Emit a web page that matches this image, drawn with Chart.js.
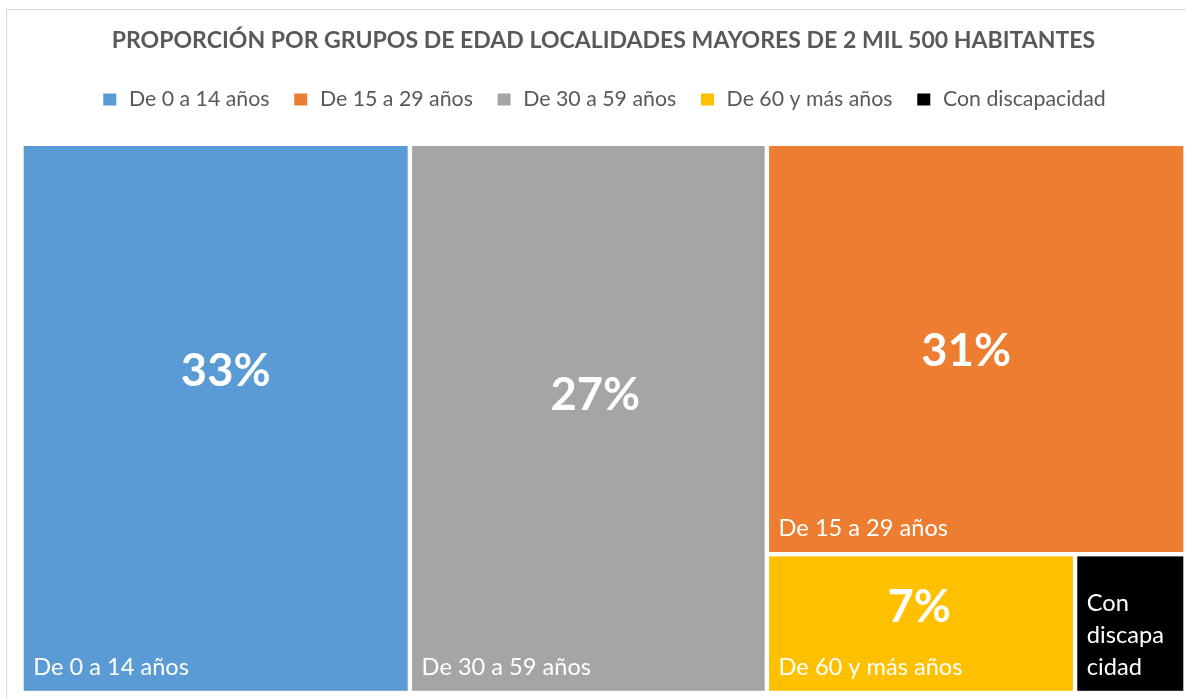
<!DOCTYPE html>
<html>
<head>
<meta charset="utf-8">
<script src="https://cdn.jsdelivr.net/npm/chart.js@4.4.1/dist/chart.umd.min.js"></script>
<style>
  html, body { margin: 0; padding: 0; background: #ffffff; overflow: hidden; width: 1186px; height: 699px; }
  #frame { position: absolute; left: 6px; top: 9px; width: 1220px; height: 720px; border: 1px solid #d9d9d9; box-sizing: border-box; }
  #wrap { position: absolute; left: 0; top: 0; width: 1186px; height: 699px; }
</style>
</head>
<body>
<div id="frame"></div>
<div id="wrap"><canvas id="c" width="1186" height="699"></canvas></div>
<script>
// ---------------- data ----------------
const chartTitle = 'PROPORCIÓN POR GRUPOS DE EDAD LOCALIDADES MAYORES DE 2 MIL 500 HABITANTES';
const categories = ['De 0 a 14 años', 'De 15 a 29 años', 'De 30 a 59 años', 'De 60 y más años', 'Con discapacidad'];
const areaValues = [33.4, 26.9, 30.7, 6.7, 2.4];          // cell sizes
const percentLabels = ['33%', '31%', '27%', '7%', ''];     // value labels as printed on the cells

// ---------------- style ----------------
const colors = ['#5B9BD5', '#ED7D31', '#A5A5A5', '#FFC000', '#000000'];
const valueCenterFrac = [0.4115, 0.503, 0.454, 0.368, 0.5]; // vertical position of value label inside its cell
const valueDx = [10, -10, 7, -1.7, 0];                      // horizontal nudge of value label
const FONT = 'Lato, Carlito, Calibri, sans-serif';
const TEXT_GRAY = '#595959';
const GAP = 4.4;

function fitSize(text, weight, target) {
  const c = document.createElement('canvas').getContext('2d');
  c.font = weight + ' 100px ' + FONT;
  return 100 * target / c.measureText(text).width;
}
const titleSize = fitSize(chartTitle, 'bold', 984);
const legendSize = fitSize(categories[0], 'normal', 140.7);
const nameSize = fitSize(categories[2], 'normal', 169.6);
const valueSize = fitSize(percentLabels[1], 'bold', 89.7);

const legendPad = 22.7;
const legendCenter = 99.5;
const legendTop = legendCenter - legendPad - legendSize / 2;
const titleCenter = 41;
const titlePadTop = titleCenter - titleSize * 0.6;
const titlePadBottom = legendTop - titlePadTop - titleSize * 1.2;
const legendBottom = legendTop + legendSize + legendPad + 10;
const areaTop = 143.8;
const spacer = Math.max(0, areaTop - legendBottom - 1.2);

// ---------------- squarified layout ----------------
function worst(row, side) {
  let s = 0, mx = -Infinity, mn = Infinity;
  row.forEach(r => { s += r.a; mx = Math.max(mx, r.a); mn = Math.min(mn, r.a); });
  return Math.max(side * side * mx / (s * s), (s * s) / (side * side * mn));
}
function squarify(items, x, y, w, h) {
  const out = [];
  let rest = items.slice();
  while (rest.length) {
    const side = Math.min(w, h);
    let row = [rest[0]], k = 1, best = worst(row, side);
    while (k < rest.length) {
      const cand = row.concat([rest[k]]);
      const wv = worst(cand, side);
      if (wv <= best) { row = cand; best = wv; k++; } else break;
    }
    const s = row.reduce((t, r) => t + r.a, 0);
    if (w >= h) {
      const cw = s / h; let cy = y;
      row.forEach(r => { const rh = r.a / cw; out.push({ i: r.i, x: x, y: cy, w: cw, h: rh }); cy += rh; });
      x += cw; w -= cw;
    } else {
      const rh = s / w; let cx = x;
      row.forEach(r => { const rw = r.a / rh; out.push({ i: r.i, x: cx, y: y, w: rw, h: rh }); cx += rw; });
      y += rh; h -= rh;
    }
    rest = rest.slice(k);
  }
  return out;
}

function wrapText(ctx, text, maxW) {
  const words = text.split(' ');
  const lines = [];
  let cur = '';
  const pushWord = (wd) => {
    let piece = '';
    for (const ch of wd) {
      if (ctx.measureText(piece + ch).width > maxW && piece) { lines.push(piece); piece = ch; }
      else piece += ch;
    }
    return piece;
  };
  words.forEach(wd => {
    const trial = cur ? cur + ' ' + wd : wd;
    if (ctx.measureText(trial).width <= maxW) { cur = trial; return; }
    if (cur) lines.push(cur);
    cur = ctx.measureText(wd).width <= maxW ? wd : pushWord(wd);
  });
  if (cur) lines.push(cur);
  return lines;
}

const treemapPlugin = {
  id: 'treemapCells',
  afterDatasetsDraw(chart) {
    const { ctx, chartArea: ca, scales: { x: xs, y: ys } } = chart;
    const W = ca.right - ca.left, H = ca.bottom - ca.top;
    const total = areaValues.reduce((a, b) => a + b, 0);
    const items = areaValues.map((v, i) => ({ i, a: v / total * W * H })).sort((a, b) => b.a - a.a);
    const rects = squarify(items, 0, 0, W, H);
    ctx.save();
    rects.forEach(r => {
      const x0 = xs.getPixelForValue(r.x / W * 100) + GAP / 2;
      const x1 = xs.getPixelForValue((r.x + r.w) / W * 100) - GAP / 2;
      const y0 = ys.getPixelForValue(r.y / H * 100) + GAP / 2;
      const y1 = ys.getPixelForValue((r.y + r.h) / H * 100) - GAP / 2;
      ctx.fillStyle = colors[r.i];
      ctx.fillRect(x0, y0, x1 - x0, y1 - y0);

      ctx.fillStyle = '#ffffff';
      if (percentLabels[r.i]) {
        ctx.font = 'bold ' + valueSize + 'px ' + FONT;
        ctx.textAlign = 'center';
        ctx.textBaseline = 'alphabetic';
        const cy = y0 + valueCenterFrac[r.i] * (y1 - y0);
        ctx.fillText(percentLabels[r.i], (x0 + x1) / 2 + valueDx[r.i], cy + 0.358 * valueSize);
      }
      ctx.font = 'normal ' + nameSize + 'px ' + FONT;
      ctx.textAlign = 'left';
      ctx.textBaseline = 'alphabetic';
      const lines = wrapText(ctx, categories[r.i], (x1 - x0) - 20);
      const lh = nameSize * 1.35;
      const lastBase = y1 - 15.7;
      lines.forEach((ln, k) => {
        ctx.fillText(ln, x0 + 9.5, lastBase - (lines.length - 1 - k) * lh);
      });
    });
    ctx.restore();
  }
};

new Chart(document.getElementById('c'), {
  type: 'scatter',
  data: { labels: categories, datasets: [{ data: [], pointRadius: 0 }] },
  options: {
    responsive: false,
    animation: false,
    events: [],
    layout: { padding: { left: 21.5, right: 0.5, top: 0, bottom: 6 } },
    scales: {
      x: { type: 'linear', min: 0, max: 100, display: false },
      y: { type: 'linear', min: 0, max: 100, reverse: true, display: false }
    },
    plugins: {
      tooltip: { enabled: false },
      title: {
        display: true,
        text: chartTitle,
        color: TEXT_GRAY,
        font: { family: FONT, size: titleSize, weight: 'bold', lineHeight: 1.2 },
        padding: { top: titlePadTop, bottom: titlePadBottom }
      },
      subtitle: {
        display: true,
        text: ' ',
        weight: 500,
        font: { size: 1, lineHeight: 1.2 },
        padding: { top: spacer, bottom: 0 }
      },
      legend: {
        display: true,
        position: 'top',
        onClick: null,
        labels: {
          padding: legendPad,
          boxWidth: 17,
          boxHeight: 16,
          color: TEXT_GRAY,
          font: { family: FONT, size: legendSize },
          generateLabels: () => categories.map((t, i) => ({
            text: t, fillStyle: colors[i], strokeStyle: '#ffffff', lineWidth: 4,
            hidden: false, index: i, datasetIndex: 0, fontColor: TEXT_GRAY
          }))
        }
      }
    }
  },
  plugins: [treemapPlugin]
});
</script>
</body>
</html>
